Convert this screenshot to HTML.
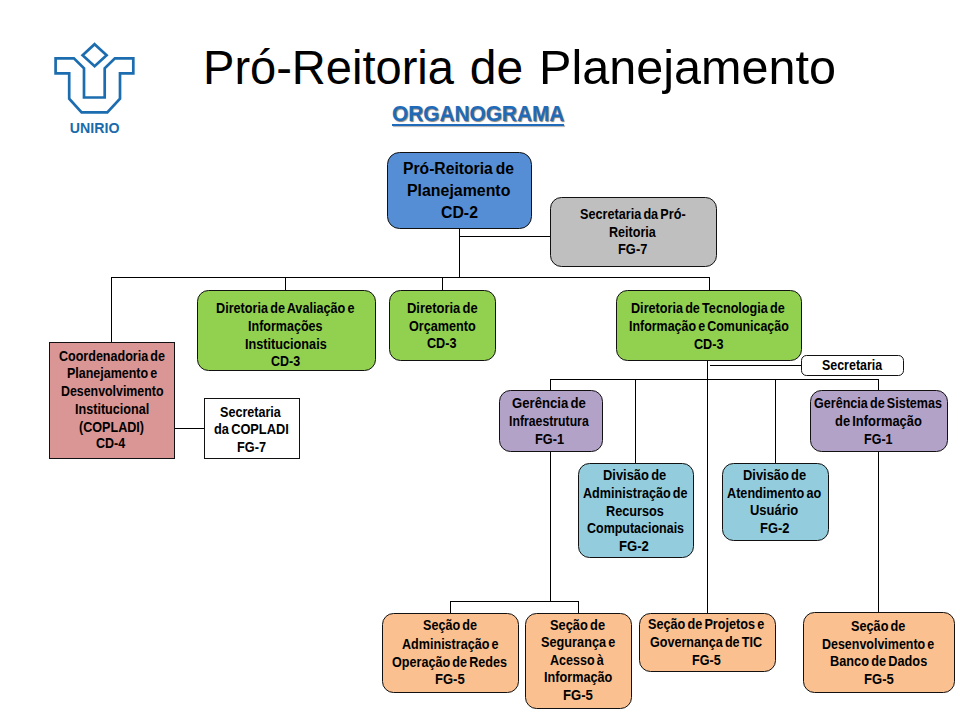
<!DOCTYPE html>
<html><head><meta charset="utf-8">
<style>
html,body{margin:0;padding:0;background:#fff;}
body{width:960px;height:720px;position:relative;overflow:hidden;font-family:"Liberation Sans",sans-serif;}
.ln{position:absolute;background:#000;}
.bx{position:absolute;box-sizing:border-box;border:1.5px solid #111;}
.tl{position:absolute;white-space:nowrap;font-weight:bold;color:#000;transform-origin:0 0;word-spacing:-1.5px;}
.t{position:absolute;white-space:nowrap;line-height:1;}
</style></head><body>

<div class="ln" style="left:459.0px;top:228.0px;width:1px;height:49.5px"></div>
<div class="ln" style="left:459.5px;top:236.0px;width:91.0px;height:1px"></div>
<div class="ln" style="left:111.0px;top:277.0px;width:598.5px;height:1px"></div>
<div class="ln" style="left:111.0px;top:277.5px;width:1px;height:65.0px"></div>
<div class="ln" style="left:285.0px;top:277.5px;width:1px;height:13.0px"></div>
<div class="ln" style="left:442.0px;top:277.5px;width:1px;height:13.0px"></div>
<div class="ln" style="left:709.0px;top:277.5px;width:1px;height:13.1px"></div>
<div class="ln" style="left:707.0px;top:360.4px;width:1px;height:252.9px"></div>
<div class="ln" style="left:709.5px;top:365.0px;width:91.7px;height:1px"></div>
<div class="ln" style="left:550.0px;top:379.0px;width:329.0px;height:1px"></div>
<div class="ln" style="left:550.0px;top:379.5px;width:1px;height:11.5px"></div>
<div class="ln" style="left:635.0px;top:379.5px;width:1px;height:84.2px"></div>
<div class="ln" style="left:775.0px;top:379.5px;width:1px;height:84.2px"></div>
<div class="ln" style="left:878.0px;top:379.5px;width:1px;height:11.3px"></div>
<div class="ln" style="left:550.0px;top:451.8px;width:1px;height:149.7px"></div>
<div class="ln" style="left:450.0px;top:601.0px;width:129.0px;height:1px"></div>
<div class="ln" style="left:450.0px;top:601.5px;width:1px;height:12.3px"></div>
<div class="ln" style="left:578.0px;top:601.5px;width:1px;height:12.3px"></div>
<div class="ln" style="left:878.0px;top:451.5px;width:1px;height:161.8px"></div>
<div class="ln" style="left:174.6px;top:428.0px;width:29.8px;height:1px"></div>
<div class="bx" style="left:386.8px;top:151.8px;width:145.6px;height:77.2px;background:#558ED5;border-radius:12.5px"></div>
<div class="tl" style="left:402.89px;top:159.64px;font-size:17.2px;line-height:17.2px;transform:scaleX(0.912)">Pró-Reitoria de</div>
<div class="tl" style="left:407.08px;top:181.64px;font-size:17.2px;line-height:17.2px;transform:scaleX(0.925)">Planejamento</div>
<div class="tl" style="left:440.78px;top:204.14px;font-size:17.2px;line-height:17.2px;transform:scaleX(0.921)">CD-2</div>
<div class="bx" style="left:549.6px;top:196.8px;width:167.7px;height:70.4px;background:#BFBFBF;border-radius:11.5px"></div>
<div class="tl" style="left:579.72px;top:206.71px;font-size:14.4px;line-height:14.4px;transform:scaleX(0.879)">Secretaria da Pró-</div>
<div class="tl" style="left:608.83px;top:224.51px;font-size:14.4px;line-height:14.4px;transform:scaleX(0.874)">Reitoria</div>
<div class="tl" style="left:617.60px;top:242.31px;font-size:14.4px;line-height:14.4px;transform:scaleX(0.895)">FG-7</div>
<div class="bx" style="left:48.6px;top:341.6px;width:126.6px;height:117.4px;background:#D99694;border-radius:0.0px"></div>
<div class="tl" style="left:58.93px;top:349.31px;font-size:14.4px;line-height:14.4px;transform:scaleX(0.871)">Coordenadoria de</div>
<div class="tl" style="left:66.63px;top:366.21px;font-size:14.4px;line-height:14.4px;transform:scaleX(0.867)">Planejamento e</div>
<div class="tl" style="left:60.74px;top:383.81px;font-size:14.4px;line-height:14.4px;transform:scaleX(0.860)">Desenvolvimento</div>
<div class="tl" style="left:74.82px;top:401.91px;font-size:14.4px;line-height:14.4px;transform:scaleX(0.876)">Institucional</div>
<div class="tl" style="left:78.62px;top:419.51px;font-size:14.4px;line-height:14.4px;transform:scaleX(0.875)">(COPLADI)</div>
<div class="tl" style="left:96.43px;top:436.41px;font-size:14.4px;line-height:14.4px;transform:scaleX(0.867)">CD-4</div>
<div class="bx" style="left:203.7px;top:397.8px;width:96.8px;height:61.2px;background:#FFFFFF;border-radius:0.0px"></div>
<div class="tl" style="left:220.43px;top:404.91px;font-size:14.4px;line-height:14.4px;transform:scaleX(0.874)">Secretaria</div>
<div class="tl" style="left:213.61px;top:422.41px;font-size:14.4px;line-height:14.4px;transform:scaleX(0.889)">da COPLADI</div>
<div class="tl" style="left:236.52px;top:440.21px;font-size:14.4px;line-height:14.4px;transform:scaleX(0.884)">FG-7</div>
<div class="bx" style="left:196.8px;top:289.8px;width:178.9px;height:81.4px;background:#92D050;border-radius:11.5px"></div>
<div class="tl" style="left:215.82px;top:300.91px;font-size:14.4px;line-height:14.4px;transform:scaleX(0.879)">Diretoria de Avaliação e</div>
<div class="tl" style="left:248.13px;top:319.11px;font-size:14.4px;line-height:14.4px;transform:scaleX(0.871)">Informações</div>
<div class="tl" style="left:244.52px;top:336.91px;font-size:14.4px;line-height:14.4px;transform:scaleX(0.881)">Institucionais</div>
<div class="tl" style="left:270.63px;top:353.91px;font-size:14.4px;line-height:14.4px;transform:scaleX(0.866)">CD-3</div>
<div class="bx" style="left:388.7px;top:289.6px;width:107.6px;height:71.7px;background:#92D050;border-radius:11.5px"></div>
<div class="tl" style="left:406.60px;top:300.71px;font-size:14.4px;line-height:14.4px;transform:scaleX(0.901)">Diretoria de</div>
<div class="tl" style="left:408.52px;top:318.81px;font-size:14.4px;line-height:14.4px;transform:scaleX(0.878)">Orçamento</div>
<div class="tl" style="left:426.62px;top:336.31px;font-size:14.4px;line-height:14.4px;transform:scaleX(0.878)">CD-3</div>
<div class="bx" style="left:615.6px;top:289.5px;width:186.8px;height:71.6px;background:#92D050;border-radius:11.5px"></div>
<div class="tl" style="left:631.02px;top:301.31px;font-size:14.4px;line-height:14.4px;transform:scaleX(0.878)">Diretoria de Tecnologia de</div>
<div class="tl" style="left:628.94px;top:319.01px;font-size:14.4px;line-height:14.4px;transform:scaleX(0.864)">Informação e Comunicação</div>
<div class="tl" style="left:693.52px;top:336.71px;font-size:14.4px;line-height:14.4px;transform:scaleX(0.878)">CD-3</div>
<div class="bx" style="left:800.5px;top:354.9px;width:103.8px;height:21.1px;background:#FFFFFF;border-radius:5.5px"></div>
<div class="tl" style="left:821.54px;top:357.71px;font-size:14.4px;line-height:14.4px;transform:scaleX(0.864)">Secretaria</div>
<div class="bx" style="left:498.7px;top:389.6px;width:103.9px;height:62.4px;background:#B3A2C7;border-radius:11.5px"></div>
<div class="tl" style="left:511.59px;top:395.71px;font-size:14.4px;line-height:14.4px;transform:scaleX(0.914)">Gerência de</div>
<div class="tl" style="left:508.90px;top:413.81px;font-size:14.4px;line-height:14.4px;transform:scaleX(0.852)">Infraestrutura</div>
<div class="tl" style="left:534.71px;top:431.96px;font-size:14.4px;line-height:14.4px;transform:scaleX(0.887)">FG-1</div>
<div class="bx" style="left:809.8px;top:389.8px;width:138.1px;height:62.3px;background:#B3A2C7;border-radius:11.5px"></div>
<div class="tl" style="left:813.83px;top:395.91px;font-size:14.4px;line-height:14.4px;transform:scaleX(0.873)">Gerência de Sistemas</div>
<div class="tl" style="left:835.35px;top:413.51px;font-size:14.4px;line-height:14.4px;transform:scaleX(0.896)">de Informação</div>
<div class="tl" style="left:863.53px;top:431.81px;font-size:14.4px;line-height:14.4px;transform:scaleX(0.871)">FG-1</div>
<div class="bx" style="left:577.7px;top:462.7px;width:116.0px;height:95.4px;background:#93CDDD;border-radius:11.5px"></div>
<div class="tl" style="left:602.70px;top:467.96px;font-size:14.4px;line-height:14.4px;transform:scaleX(0.897)">Divisão de</div>
<div class="tl" style="left:582.52px;top:486.01px;font-size:14.4px;line-height:14.4px;transform:scaleX(0.877)">Administração de</div>
<div class="tl" style="left:605.82px;top:503.51px;font-size:14.4px;line-height:14.4px;transform:scaleX(0.883)">Recursos</div>
<div class="tl" style="left:586.73px;top:520.81px;font-size:14.4px;line-height:14.4px;transform:scaleX(0.867)">Computacionais</div>
<div class="tl" style="left:619.49px;top:538.71px;font-size:14.4px;line-height:14.4px;transform:scaleX(0.913)">FG-2</div>
<div class="bx" style="left:721.5px;top:462.8px;width:107.9px;height:78.5px;background:#93CDDD;border-radius:11.5px"></div>
<div class="tl" style="left:742.85px;top:467.61px;font-size:14.4px;line-height:14.4px;transform:scaleX(0.896)">Divisão de</div>
<div class="tl" style="left:727.22px;top:485.71px;font-size:14.4px;line-height:14.4px;transform:scaleX(0.879)">Atendimento ao</div>
<div class="tl" style="left:750.35px;top:503.21px;font-size:14.4px;line-height:14.4px;transform:scaleX(0.901)">Usuário</div>
<div class="tl" style="left:759.70px;top:520.71px;font-size:14.4px;line-height:14.4px;transform:scaleX(0.900)">FG-2</div>
<div class="bx" style="left:381.8px;top:612.6px;width:137.6px;height:80.1px;background:#FAC090;border-radius:11.5px"></div>
<div class="tl" style="left:422.88px;top:618.41px;font-size:14.4px;line-height:14.4px;transform:scaleX(0.875)">Seção de</div>
<div class="tl" style="left:401.88px;top:636.71px;font-size:14.4px;line-height:14.4px;transform:scaleX(0.874)">Administração e</div>
<div class="tl" style="left:392.13px;top:654.71px;font-size:14.4px;line-height:14.4px;transform:scaleX(0.875)">Operação de Redes</div>
<div class="tl" style="left:434.85px;top:671.96px;font-size:14.4px;line-height:14.4px;transform:scaleX(0.905)">FG-5</div>
<div class="bx" style="left:524.6px;top:613.2px;width:107.7px;height:95.7px;background:#FAC090;border-radius:11.5px"></div>
<div class="tl" style="left:550.41px;top:617.71px;font-size:14.4px;line-height:14.4px;transform:scaleX(0.892)">Seção de</div>
<div class="tl" style="left:540.52px;top:635.21px;font-size:14.4px;line-height:14.4px;transform:scaleX(0.884)">Segurança e</div>
<div class="tl" style="left:550.43px;top:652.81px;font-size:14.4px;line-height:14.4px;transform:scaleX(0.870)">Acesso à</div>
<div class="tl" style="left:543.62px;top:670.41px;font-size:14.4px;line-height:14.4px;transform:scaleX(0.880)">Informação</div>
<div class="tl" style="left:563.39px;top:688.01px;font-size:14.4px;line-height:14.4px;transform:scaleX(0.913)">FG-5</div>
<div class="bx" style="left:638.8px;top:612.6px;width:137.7px;height:59.6px;background:#FAC090;border-radius:11.5px"></div>
<div class="tl" style="left:647.72px;top:617.11px;font-size:14.4px;line-height:14.4px;transform:scaleX(0.879)">Seção de Projetos e</div>
<div class="tl" style="left:650.03px;top:634.71px;font-size:14.4px;line-height:14.4px;transform:scaleX(0.874)">Governança de TIC</div>
<div class="tl" style="left:692.32px;top:652.91px;font-size:14.4px;line-height:14.4px;transform:scaleX(0.876)">FG-5</div>
<div class="bx" style="left:802.7px;top:612.4px;width:152.6px;height:80.7px;background:#FAC090;border-radius:11.5px"></div>
<div class="tl" style="left:850.82px;top:618.86px;font-size:14.4px;line-height:14.4px;transform:scaleX(0.882)">Seção de</div>
<div class="tl" style="left:822.13px;top:636.71px;font-size:14.4px;line-height:14.4px;transform:scaleX(0.866)">Desenvolvimento e</div>
<div class="tl" style="left:830.01px;top:654.31px;font-size:14.4px;line-height:14.4px;transform:scaleX(0.886)">Banco de Dados</div>
<div class="tl" style="left:863.74px;top:672.21px;font-size:14.4px;line-height:14.4px;transform:scaleX(0.908)">FG-5</div>
<div class="t" style="left:203px;top:44px;font-size:48px;color:#000;transform:scaleX(0.98);transform-origin:0 0">Pró-Reitoria</div>
<div class="t" style="left:469.7px;top:44px;font-size:48px;color:#000">de</div>
<div class="t" style="left:538.5px;top:44px;font-size:48px;color:#000;transform:scaleX(1.012);transform-origin:0 0">Planejamento</div>
<div class="t" style="left:392.2px;top:103px;font-size:22.5px;font-weight:bold;color:#1F6BBA;transform:scaleX(0.925);transform-origin:0 0;text-shadow:1.2px 1.2px 1px rgba(0,0,0,0.5)">ORGANOGRAMA</div>
<div style="position:absolute;left:392.2px;top:124.4px;width:172px;height:2px;background:#1F6BBA;box-shadow:1px 1px 1px rgba(0,0,0,0.3)"></div>
<svg style="position:absolute;left:0;top:0" width="160" height="140" viewBox="0 0 160 140">
<g fill="none" stroke="#1C6DB0" stroke-width="2.7" stroke-linejoin="miter">
<path d="M94.6 44.2 L106.6 55.2 L94.6 66.2 L82.6 55.2 Z"/>
<path d="M55.6 58.4 L73.9 58.4 L84 68.3 L84 97.5 L104.7 97.5 L104.7 68.3 L114.9 58.4 L133.3 58.4 L133.3 73.4 L120 73.4 L120 98.75 L107.3 112.4 L81.6 112.4 L69.2 98.75 L69.2 73.4 L55.6 73.4 Z"/>
</g>
<text x="94.6" y="132.5" text-anchor="middle" font-family="Liberation Sans" font-weight="bold" font-size="14.2" fill="#1A6BAC">UNIRIO</text>
</svg>
</body></html>
